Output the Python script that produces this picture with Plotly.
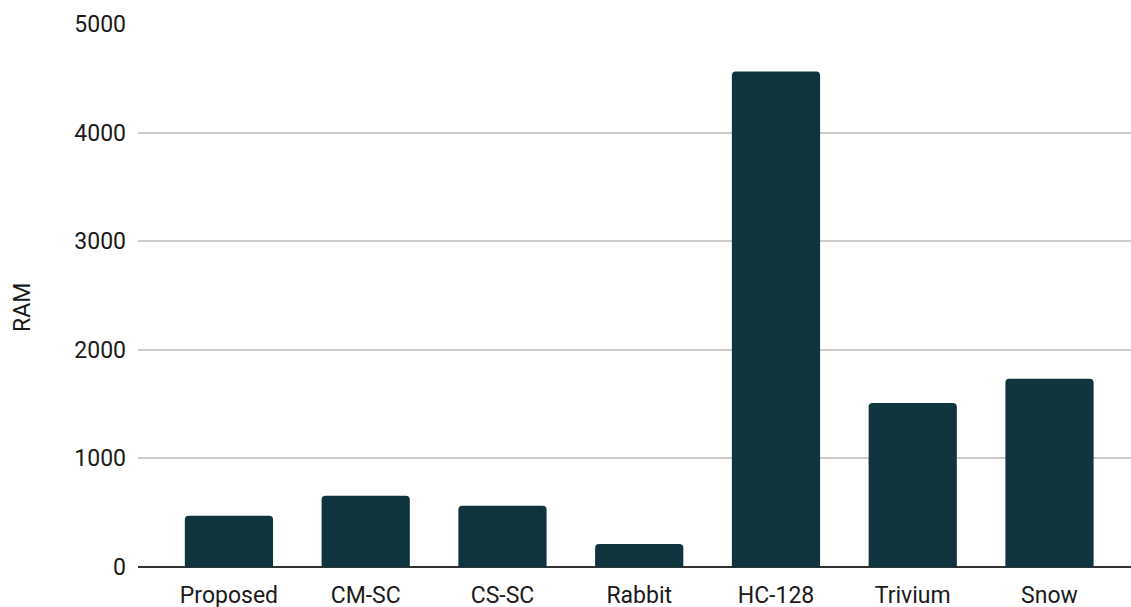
import plotly.graph_objects as go

categories = ["Proposed", "CM-SC", "CS-SC", "Rabbit", "HC-128", "Trivium", "Snow"]
ram_values = [473, 657, 565, 212, 4562, 1509, 1733]
y_ticks = [0, 1000, 2000, 3000, 4000, 5000]

fig = go.Figure(
    go.Bar(
        x=categories,
        y=ram_values,
        marker=dict(color="#0f343e", cornerradius=4, line=dict(width=0)),
        width=0.645,
    )
)

fig.update_layout(
    width=1131,
    height=607,
    margin=dict(l=138, r=0, t=24, b=40),
    paper_bgcolor="white",
    plot_bgcolor="white",
    font=dict(family="Roboto", size=23, color="#1a1a1a"),
    showlegend=False,
    annotations=[
        dict(
            text="RAM",
            xref="paper",
            yref="paper",
            x=-0.1158,
            y=0.477,
            xanchor="center",
            yanchor="middle",
            textangle=-90,
            showarrow=False,
            font=dict(size=23, color="#1a1a1a"),
        )
    ],
)

fig.update_xaxes(
    range=[-0.665, 6.596],
    showgrid=False,
    showline=False,
    ticks="",
    tickfont=dict(size=23, color="#1a1a1a"),
    ticklabelstandoff=12,
    automargin=False,
)

fig.update_yaxes(
    range=[0, 5000],
    tickvals=y_ticks,
    ticktext=[str(v) for v in y_ticks],
    showgrid=True,
    gridcolor="#cccccc",
    gridwidth=1.5,
    zeroline=True,
    zerolinecolor="#333333",
    zerolinewidth=1.5,
    showline=False,
    ticks="",
    tickfont=dict(size=23, color="#1a1a1a"),
    ticklabelstandoff=11,
    automargin=False,
)

fig.write_html("out.html")
